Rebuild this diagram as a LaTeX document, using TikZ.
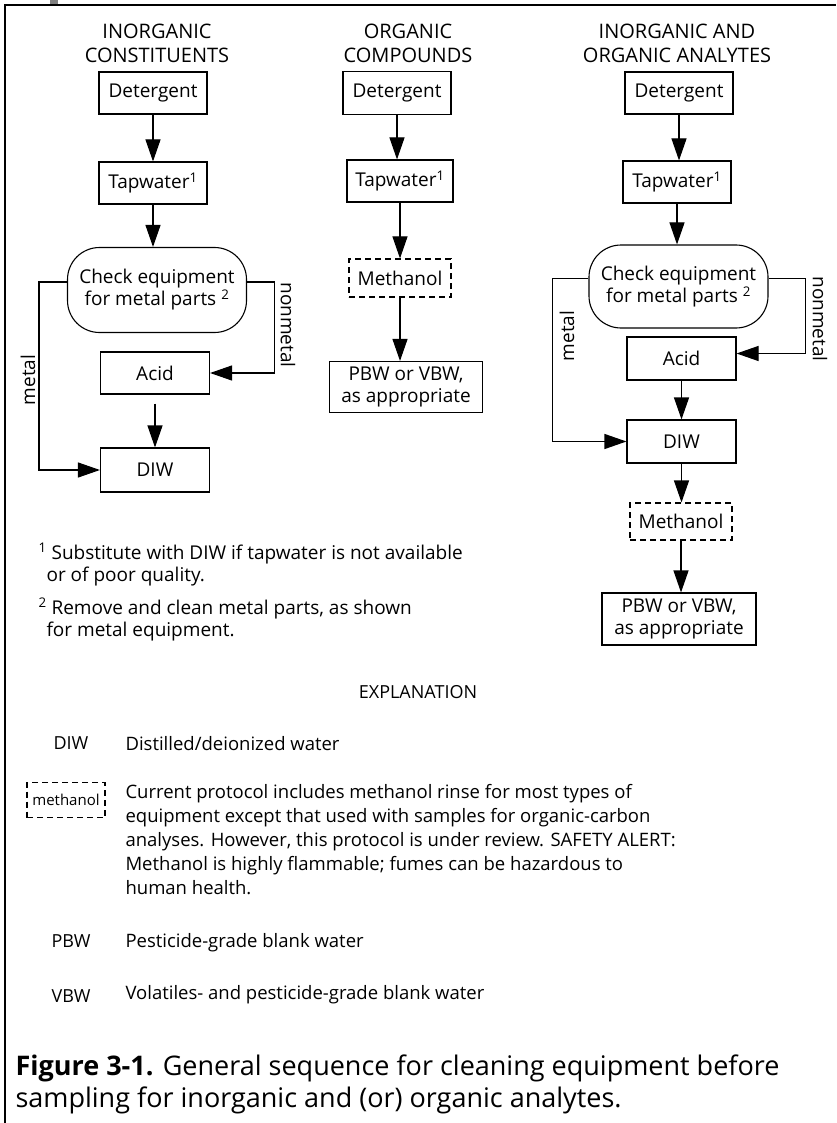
\documentclass[tikz,border=0pt]{standalone}
\usepackage{fontspec}
\setmainfont{Open Sans}
\usetikzlibrary{arrows.meta}

\begin{document}
\begin{tikzpicture}[x=1pt,y=-1pt,
		box/.style={draw,line width=1.1pt,minimum width=108pt,minimum height=42pt,inner sep=0pt,font=\fontsize{19}{22}\selectfont},
		chkbox/.style={box,rounded corners=32pt,minimum width=179pt,minimum height=85pt,align=center},
		methbox/.style={box,dash pattern=on 6pt off 4pt,minimum width=102pt,minimum height=38pt},
		pbwbox/.style={box,align=center,minimum width=153pt,minimum height=51pt},
		arr/.style={line width=1.1pt,-{Triangle[length=22pt,width=15pt]}},
		colhead/.style={align=center,anchor=base,font=\fontsize{20}{24}\selectfont},
		sidelabel/.style={font=\fontsize{19}{22}\selectfont},
		footnote/.style={align=left,anchor=base west,font=\fontsize{19}{22}\selectfont},
		abbr/.style={font=\fontsize{18}{20}\selectfont},
		desc/.style={align=left,anchor=base west,font=\fontsize{18.5}{24}\selectfont}]

		\useasboundingbox (0,0) rectangle (836,1123);

		\fill[color=gray] (50,0) rectangle (58,5);
		\draw[line width=2pt] (5,1123) -- (5,5) -- (836,5);

		\node[colhead] (head1) at (157,63) {INORGANIC\\CONSTITUENTS};
		\node[colhead] (head2) at (408,63) {ORGANIC\\COMPOUNDS};
		\node[colhead] (head3) at (677,63) {INORGANIC AND\\ORGANIC ANALYTES};

		\node[box] (det1) at (153,93) {Detergent};
		\node[box] (tap1) at (153,183) {Tapwater\textsuperscript{1}};
		\node[chkbox] (chk1) at (157,290) {Check equipment\\for metal parts \textsuperscript{2}};
		\node[box,minimum width=109pt] (acid1) at (155,373) {Acid};
		\node[box,minimum width=109pt,minimum height=44pt] (diw1) at (155,470) {DIW};

		\node[box,minimum height=43pt] (det2) at (397,93) {Detergent};
		\node[box,minimum width=106pt] (tap2) at (400,181) {Tapwater\textsuperscript{1}};
		\node[methbox] (meth2) at (400,278) {Methanol};
		\node[pbwbox] (pbw2) at (406,387) {PBW or VBW,\\as appropriate};

		\node[box] (det3) at (679,93) {Detergent};
		\node[box] (tap3) at (677,182) {Tapwater\textsuperscript{1}};
		\node[chkbox,minimum height=83pt] (chk3) at (678.5,286.5) {Check equipment\\for metal parts \textsuperscript{2}};
		\node[box,minimum width=109pt,minimum height=43pt] (acid3) at (681.5,358.5) {Acid};
		\node[box,minimum width=109pt,minimum height=43pt] (diw3) at (681.5,441.5) {DIW};
		\node[methbox,minimum height=37pt] (meth3) at (681,521.5) {Methanol};
		\node[pbwbox,minimum width=154pt,minimum height=52pt] (pbw3) at (679,619) {PBW or VBW,\\as appropriate};

		\draw[arr] (det1) -- (tap1);
		\draw[arr] (tap1.south) -- (tap1.south |- chk1.north);
		\draw[arr,shorten <=9pt] (acid1) -- (diw1);
		\draw[arr] ([yshift=8pt]chk1.west) -- ++(-28,0) |- (diw1.west);
		\draw[arr] ([yshift=8pt]chk1.east) -- ++(27,0) |- (acid1.east);

		\draw[arr] (det2) -- (det2 |- tap2.north);
		\draw[arr] (tap2) -- (meth2);
		\draw[arr] (meth2.south) -- (meth2.south |- pbw2.north);

		\draw[arr] (det3.south) -- (det3.south |- tap3.north);
		\draw[arr] (tap3.south) -- (tap3.south |- chk3.north);
		\draw[arr] (acid3) -- (diw3);
		\draw[arr] (diw3.south) -- (diw3.south |- meth3.north);
		\draw[arr] (meth3.south) -- (meth3.south |- pbw3.north);
		\draw[arr] ([yshift=8pt]chk3.west) -- ++(-36,0) |- (diw3.west);
		\draw[arr] ([yshift=8pt]chk3.east) -- ++(37,0) |- ([yshift=5pt]acid3.east);

		\node[sidelabel,rotate=90] (metal1) at (28,380) {metal};
		\node[sidelabel,rotate=-90] (nonmetal1) at (288,325) {nonmetal};
		\node[sidelabel,rotate=90] (metal3) at (567,336) {metal};
		\node[sidelabel,rotate=-90] (nonmetal3) at (820,319) {nonmetal};

		\node[footnote] (note1) at (35,581) {\textsuperscript{1} Substitute with DIW if tapwater is not available\\\hspace*{8pt}or of poor quality.};
		\node[footnote] (note2) at (35,636) {\textsuperscript{2} Remove and clean metal parts, as shown\\\hspace*{8pt}for metal equipment.};

		\node[abbr] (expl) at (418,692) {EXPLANATION};

		\node[abbr] (kdiw) at (71,743) {DIW};
		\node[desc] (ddiw) at (122,750) {Distilled/deionized water};
		\node[methbox,minimum width=78pt,minimum height=35pt,font=\fontsize{15}{18}\selectfont] (kmeth) at (66,800) {methanol};
		\node[desc] (dmeth) at (122,894) {Current protocol includes methanol rinse for most types of\\equipment except that used with samples for organic-carbon\\analyses. However, this protocol is under review. SAFETY ALERT:\\Methanol is highly flammable; fumes can be hazardous to\\human health.};
		\node[abbr] (kpbw) at (71,941) {PBW};
		\node[desc] (dpbw) at (122,947) {Pesticide-grade blank water};
		\node[abbr] (kvbw) at (71,996) {VBW};
		\node[desc] (dvbw) at (122,999) {Volatiles- and pesticide-grade blank water};

		\node[anchor=base west,align=left,font=\fontsize{27}{32}\selectfont] (caption) at (12,1107) {\textbf{Figure 3-1.} General sequence for cleaning equipment before\\sampling for inorganic and (or) organic analytes.};

	\end{tikzpicture}
\end{document}
